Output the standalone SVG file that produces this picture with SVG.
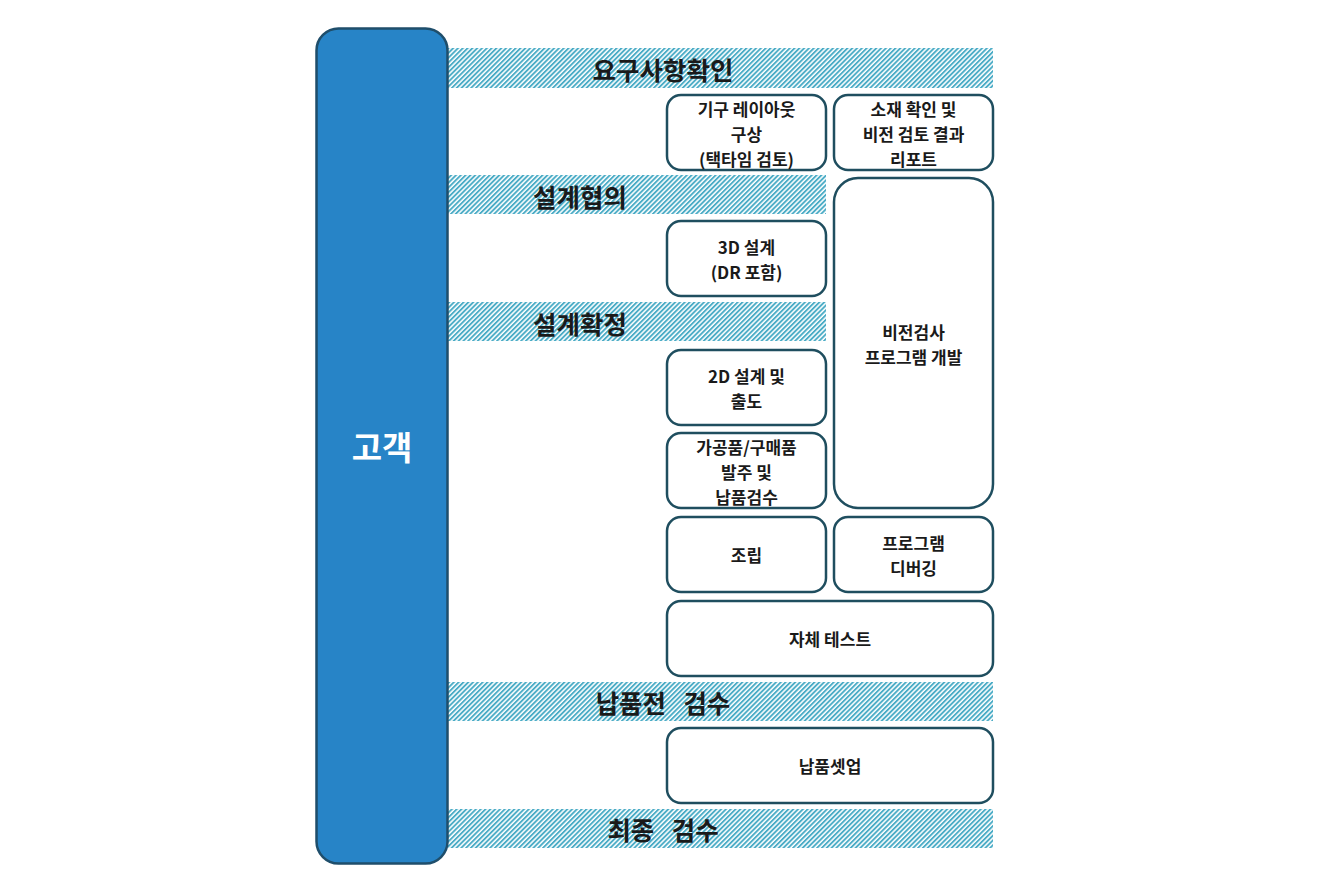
<svg xmlns="http://www.w3.org/2000/svg" width="1331" height="892" viewBox="0 0 1331 892">
<defs>
<pattern id="hatch" width="3.4" height="3.4" patternUnits="userSpaceOnUse" patternTransform="rotate(45)">
<rect width="3.4" height="3.4" fill="#ffffff"/>
<rect width="1.9" height="3.4" fill="#4BACC6"/>
</pattern>
</defs>
<style>
.band{fill:url(#hatch);}
.bt{font-family:"Noto Sans CJK KR","Noto Sans",sans-serif;font-weight:bold;font-size:25.5px;fill:#1a1a1a;text-anchor:middle;dominant-baseline:central;}
.node rect{fill:#ffffff;stroke:#1F4E5F;stroke-width:2.5;}
.nt{font-family:"Noto Sans CJK KR","Noto Sans",sans-serif;font-weight:bold;font-size:17px;fill:#1a1a1a;text-anchor:middle;dominant-baseline:central;}
</style>
<rect width="1331" height="892" fill="#ffffff"/>
<g id="bands">
<rect class="band" x="448" y="48" width="545" height="40"/>
<text class="bt" x="663" y="68">요구사항확인</text>
<rect class="band" x="448" y="175" width="378" height="39"/>
<text class="bt" x="580" y="195">설계협의</text>
<rect class="band" x="448" y="302" width="378" height="39"/>
<text class="bt" x="580" y="322">설계확정</text>
<rect class="band" x="448" y="682" width="545" height="39"/>
<text class="bt" x="663" y="701" xml:space="preserve">납품전   검수</text>
<rect class="band" x="448" y="809" width="545" height="39"/>
<text class="bt" x="663" y="828" xml:space="preserve">최종   검수</text>
</g>
<g id="customer">
<rect x="316.5" y="28.5" width="131" height="835" rx="22" fill="#2784C7" stroke="#1F4E6B" stroke-width="2.5"/>
<text x="382" y="446" font-family="&quot;Noto Sans CJK KR&quot;,&quot;Noto Sans&quot;,sans-serif" font-weight="bold" font-size="33" fill="#ffffff" text-anchor="middle" dominant-baseline="central">고객</text>
</g>
<g id="n1" class="node"><rect x="667" y="95" width="159" height="75" rx="14"/>
<text class="nt"><tspan x="746.5" y="107.5">기구 레이아웃</tspan><tspan x="746.5" y="132.5">구상</tspan><tspan x="746.5" y="157.5">(택타임 검토)</tspan></text></g>
<g id="n2" class="node"><rect x="834" y="95" width="159" height="75" rx="14"/>
<text class="nt"><tspan x="913.5" y="107.5">소재 확인 및</tspan><tspan x="913.5" y="132.5">비전 검토 결과</tspan><tspan x="913.5" y="157.5">리포트</tspan></text></g>
<g id="n3" class="node"><rect x="667" y="221" width="159" height="75" rx="14"/>
<text class="nt"><tspan x="746.5" y="246">3D 설계</tspan><tspan x="746.5" y="271">(DR 포함)</tspan></text></g>
<g id="n4" class="node"><rect x="834" y="178" width="159" height="330" rx="24"/>
<text class="nt"><tspan x="913.5" y="330.5">비전검사</tspan><tspan x="913.5" y="355.5">프로그램 개발</tspan></text></g>
<g id="n5" class="node"><rect x="667" y="350" width="159" height="75" rx="14"/>
<text class="nt"><tspan x="746.5" y="375">2D 설계 및</tspan><tspan x="746.5" y="400">출도</tspan></text></g>
<g id="n6" class="node"><rect x="667" y="433" width="159" height="75" rx="14"/>
<text class="nt"><tspan x="746.5" y="446">가공품/구매품</tspan><tspan x="746.5" y="471">발주 및</tspan><tspan x="746.5" y="496">납품검수</tspan></text></g>
<g id="n7" class="node"><rect x="667" y="517" width="159" height="75" rx="14"/>
<text class="nt" x="746.5" y="554">조립</text></g>
<g id="n8" class="node"><rect x="834" y="517" width="159" height="75" rx="14"/>
<text class="nt"><tspan x="913.5" y="542">프로그램</tspan><tspan x="913.5" y="567">디버깅</tspan></text></g>
<g id="n9" class="node"><rect x="667" y="601" width="326" height="75" rx="14"/>
<text class="nt" x="830" y="638">자체 테스트</text></g>
<g id="n10" class="node"><rect x="667" y="728" width="326" height="75" rx="14"/>
<text class="nt" x="830" y="765">납품셋업</text></g>
<g id="connectors"></g>
</svg>
